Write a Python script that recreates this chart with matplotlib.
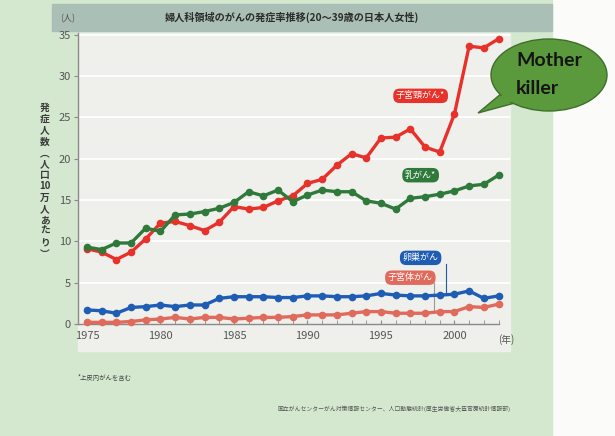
import matplotlib.pyplot as plt
from matplotlib.patches import Rectangle, Ellipse, Polygon

plt.rcParams['font.family'] = ['Noto Sans CJK JP', 'DejaVu Sans']

# incidence per 100,000 women aged 20-39
years = list(range(1975, 2004))
cervical = [9.1, 8.7, 7.8, 8.7, 10.3, 12.2, 12.4, 11.9, 11.3, 12.3,
            14.2, 13.9, 14.1, 14.9, 15.5, 17.0, 17.5, 19.2, 20.6, 20.1,
            22.5, 22.6, 23.6, 21.4, 20.8, 25.4, 33.6, 33.4, 34.5]
breast = [9.3, 9.0, 9.8, 9.8, 11.6, 11.2, 13.2, 13.3, 13.6, 14.0,
          14.7, 16.0, 15.5, 16.2, 14.8, 15.6, 16.2, 16.0, 16.0, 14.9,
          14.6, 13.9, 15.2, 15.4, 15.7, 16.1, 16.7, 16.9, 18.0]
ovarian = [1.7, 1.6, 1.3, 2.0, 2.1, 2.3, 2.1, 2.3, 2.3, 3.1,
           3.3, 3.3, 3.3, 3.2, 3.2, 3.4, 3.4, 3.3, 3.3, 3.4,
           3.7, 3.5, 3.4, 3.4, 3.5, 3.6, 4.0, 3.1, 3.4]
corpus = [0.2, 0.2, 0.2, 0.3, 0.5, 0.6, 0.8, 0.6, 0.8, 0.8,
          0.6, 0.7, 0.8, 0.8, 0.9, 1.1, 1.1, 1.1, 1.3, 1.5,
          1.5, 1.3, 1.3, 1.3, 1.5, 1.5, 2.1, 2.0, 2.4]

yticks = [0, 5, 10, 15, 20, 25, 30, 35]
xticks = [1975, 1980, 1985, 1990, 1995, 2000]

RED = '#e6322b'
GREEN = '#2f7a3a'
BLUE = '#1f5db4'
SALMON = '#e06a5c'

W, H = 615, 436
fig = plt.figure(figsize=(W / 100, H / 100), dpi=100)
fig.patch.set_facecolor('#fbfbf9')

# background panels, in pixel units
bg = fig.add_axes([0, 0, 1, 1], zorder=0)
bg.set_xlim(0, W)
bg.set_ylim(H, 0)
bg.axis('off')
bg.add_patch(Rectangle((0, 0), 552, H, color='#d3e8cf'))
bg.add_patch(Rectangle((52, 4), 500, 27, color='#aabfb6'))
bg.add_patch(Rectangle((78, 33), 432, 318, color='#efefeb'))

ax = fig.add_axes([78 / W, 1 - 324 / H, 432 / W, 291 / H], zorder=1)
ax.patch.set_alpha(0)
ax.set_xlim(1974.39, 2003.78)
ax.set_ylim(0, 35.2)

for v in yticks[1:]:
    ax.axhline(v, color='white', lw=1.3, zorder=0)

series = [(cervical, RED), (breast, GREEN), (ovarian, BLUE), (corpus, SALMON)]
for vals, col in series:
    ax.plot(years, vals, color=col, lw=2.4, marker='o', ms=5.5,
            markeredgewidth=0, clip_on=False, zorder=3)

for s in ['top', 'right']:
    ax.spines[s].set_visible(False)
for s in ['left', 'bottom']:
    ax.spines[s].set_color('#8a8a8a')
    ax.spines[s].set_linewidth(1)
ax.spines['bottom'].set_bounds(1974.39, 2003)

ax.set_yticks(yticks)
ax.set_xticks(xticks)
ax.set_xticks(years, minor=True)
ax.tick_params(axis='y', direction='out', length=3, color='#8a8a8a',
               labelsize=8, labelcolor='#555555', pad=2)
ax.tick_params(axis='x', which='both', direction='in', length=3,
               color='#8a8a8a', labelsize=8, labelcolor='#555555', pad=5)

# series labels
def tag(x, y, text, col):
    ax.text(x, y, text, color='white', fontsize=6.5, ha='center', va='center',
            zorder=5, clip_on=False,
            bbox=dict(boxstyle='round,pad=0.3,rounding_size=0.7',
                      fc=col, ec='none'))

tag(1997.7, 27.6, '子宮頸がん*', RED)
tag(1997.7, 18.0, '乳がん*', GREEN)
tag(1997.7, 8.0, '卵巣がん', BLUE)
tag(1997.0, 5.6, '子宮体がん', SALMON)
ax.plot([1999.4, 1999.4], [7.2, ovarian[24]], color=BLUE, lw=0.8, zorder=2)
ax.plot([1998.6, 1998.6], [4.9, corpus[23]], color='#999999', lw=0.8, zorder=2)

# overlay for text and the bubble, in pixel units
ov = fig.add_axes([0, 0, 1, 1], zorder=4)
ov.set_xlim(0, W)
ov.set_ylim(H, 0)
ov.axis('off')
ov.patch.set_alpha(0)

ov.text(292, 17, '婦人科領域のがんの発症率推移(20～39歳の日本人女性)',
        fontsize=7.3, fontweight='bold', color='#2b2b2b', ha='center', va='center')
ov.text(68, 19, '(人)', fontsize=6.5, color='#555555', ha='center', va='center')
ov.text(506, 340, '(年)', fontsize=7, color='#555555', ha='center', va='center')

ylab = ['発', '症', '人', '数', '︵', '人', '口', '10', '万', '人', 'あ', 'た', 'り', '︶']
for i, ch in enumerate(ylab):
    ov.text(45, 108 + i * 11.2, ch, fontsize=7, fontweight='bold',
            color='#3a3a3a', ha='center', va='center')

ov.text(78, 378, '*上皮内がんを含む', fontsize=4.6, color='#444444', va='center')
ov.text(278, 409, '国立がんセンターがん対策情報センター、人口動態統計(厚生労働省大臣官房統計情報部)',
        fontsize=4.2, color='#555555', va='center')

ov.add_patch(Polygon([(508, 88), (526, 100), (478, 113)], closed=True,
                     fc='#5b9a3c', ec='#3f6f2b', lw=1, zorder=1))
ov.add_patch(Ellipse((549, 75), 116, 72, fc='#5b9a3c', ec='#3f6f2b', lw=1, zorder=2))
ov.add_patch(Polygon([(510, 89), (524, 98), (482, 111)], closed=True,
                     fc='#5b9a3c', ec='none', zorder=3))
ov.text(516, 60, 'Mother', family=['Lato', 'DejaVu Sans'], fontsize=14,
        fontweight='bold', color='#151515', va='center', zorder=4)
ov.text(516, 88, 'killer', family=['Lato', 'DejaVu Sans'], fontsize=14,
        fontweight='bold', color='#151515', va='center', zorder=4)

fig.savefig('out.png', dpi=100, facecolor=fig.get_facecolor())
